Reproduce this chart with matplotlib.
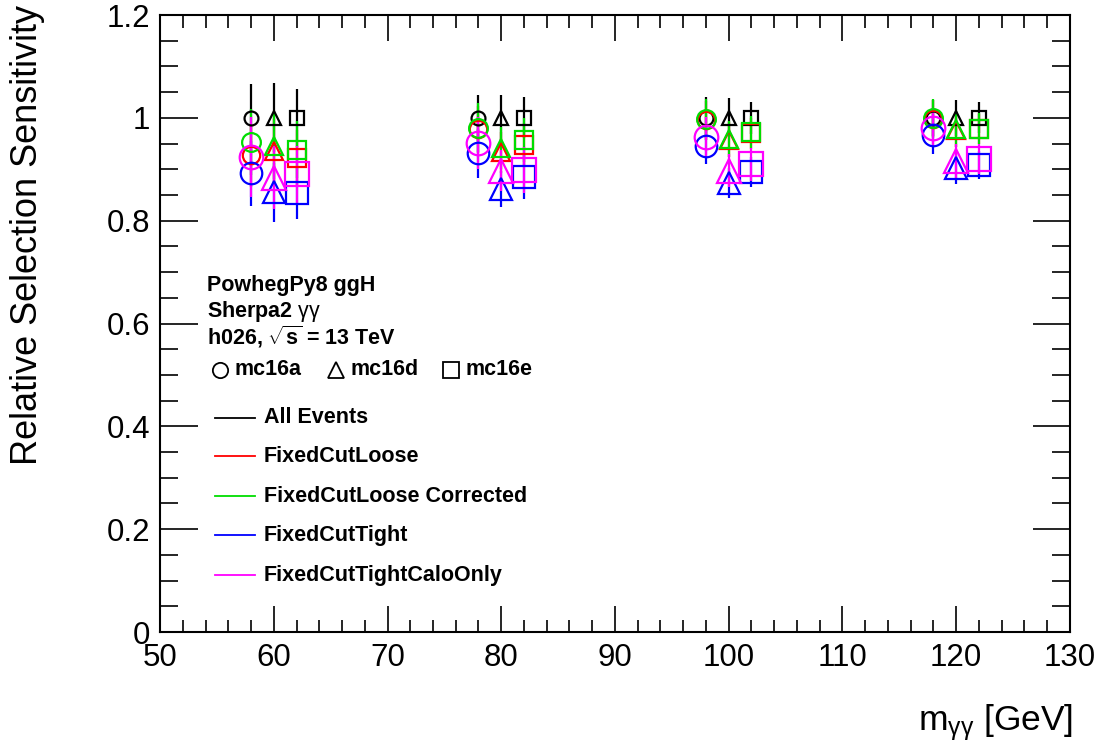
import numpy as np
import matplotlib
matplotlib.use('Agg')
import matplotlib.pyplot as plt
from matplotlib.ticker import MultipleLocator

plt.rcParams['font.family'] = ['Liberation Sans', 'DejaVu Sans']
plt.rcParams['mathtext.fontset'] = 'custom'
plt.rcParams['mathtext.rm'] = 'Liberation Sans'
plt.rcParams['mathtext.it'] = 'Liberation Sans:italic'
plt.rcParams['mathtext.bf'] = 'Liberation Sans:bold'

# Mass points and sample offsets (mc16a, mc16d, mc16e)
masses = [60, 80, 100, 120]
samples = ['mc16a', 'mc16d', 'mc16e']
sample_offsets = [-2, 0, 2]
sample_markers = ['o', '^', 's']

selections = ['All Events', 'FixedCutLoose', 'FixedCutLoose Corrected',
              'FixedCutTight', 'FixedCutTightCaloOnly']
colors = ['black', 'red', '#00dd00', 'blue', 'magenta']
msizes = [10, 12.5, 13.5, 15.5, 17]

# values[selection][sample] -> one value per mass point
values = {
    'All Events': [[1.0, 1.0, 1.0, 1.0], [1.0, 1.0, 1.0, 1.0], [1.0, 1.0, 1.0, 1.0]],
    'FixedCutLoose': [[0.927, 0.978, 0.995, 0.998], [0.936, 0.933, 0.957, 0.977], [0.922, 0.948, 0.970, 0.978]],
    'FixedCutLoose Corrected': [[0.953, 0.981, 0.997, 0.999], [0.946, 0.942, 0.958, 0.978], [0.938, 0.957, 0.972, 0.979]],
    'FixedCutTight': [[0.892, 0.931, 0.946, 0.966], [0.855, 0.861, 0.874, 0.903], [0.853, 0.885, 0.894, 0.908]],
    'FixedCutTightCaloOnly': [[0.924, 0.951, 0.962, 0.981], [0.884, 0.897, 0.897, 0.916], [0.890, 0.899, 0.910, 0.920]],
}
# uncertainties per sample, one per mass point
errors = {
    'All Events': [[0.065, 0.045, 0.040, 0.035], [0.067, 0.044, 0.038, 0.035], [0.056, 0.040, 0.031, 0.030]],
    'FixedCutLoose': [[0.062, 0.046, 0.038, 0.036], [0.062, 0.040, 0.034, 0.034], [0.054, 0.042, 0.030, 0.029]],
    'FixedCutLoose Corrected': [[0.064, 0.047, 0.040, 0.038], [0.064, 0.041, 0.035, 0.035], [0.055, 0.043, 0.031, 0.030]],
    'FixedCutTight': [[0.063, 0.047, 0.036, 0.037], [0.058, 0.035, 0.029, 0.032], [0.050, 0.043, 0.029, 0.027]],
    'FixedCutTightCaloOnly': [[0.078, 0.050, 0.040, 0.038], [0.062, 0.040, 0.032, 0.033], [0.055, 0.045, 0.032, 0.030]],
}

fig = plt.figure(figsize=(11.12, 7.44), dpi=100)
ax = fig.add_axes([0.1439, 0.1505, 0.8183, 0.8293])

for sel, col, ms in zip(selections, colors, msizes):
    for i, (off, mk) in enumerate(zip(sample_offsets, sample_markers)):
        x = np.array(masses) + off
        ax.errorbar(x, values[sel][i], yerr=errors[sel][i], fmt=mk, color=col,
                    mfc='none', mec=col, ms=ms, mew=1.6, elinewidth=1.6, capsize=0)

ax.set_xlim(50, 130)
ax.set_ylim(0, 1.2)
ax.xaxis.set_major_locator(MultipleLocator(10))
ax.xaxis.set_minor_locator(MultipleLocator(2))
ax.yaxis.set_major_locator(MultipleLocator(0.2))
ax.yaxis.set_minor_locator(MultipleLocator(0.05))
ax.set_yticks([0, 0.2, 0.4, 0.6, 0.8, 1.0, 1.2])
ax.set_yticklabels(['0', '0.2', '0.4', '0.6', '0.8', '1', '1.2'])
ax.tick_params(which='both', direction='in', top=True, right=True, labelsize=22.5, width=1.2)
ax.tick_params(axis='x', which='major', length=19, pad=8)
ax.tick_params(axis='x', which='minor', length=9)
ax.tick_params(axis='y', which='major', length=27, pad=7)
ax.tick_params(axis='y', which='minor', length=13)
for s in ax.spines.values():
    s.set_linewidth(1.5)

# Axis titles placed like ROOT (top / right aligned)
fig.text(0.0247, 0.9933, 'Relative Selection Sensitivity', fontsize=26,
         rotation=90, ha='center', va='top')
fig.text(0.965, 0.0188, r'm$_{\mathrm{\gamma\gamma}}$ [GeV]', fontsize=25.5,
         ha='right', va='baseline')

# Legend block
tkw = dict(transform=ax.transAxes, fontsize=15.5, fontweight='bold', va='center', ha='left')
ax.text(0.0516, 0.562, 'PowhegPy8 ggH', **tkw)
ax.text(0.0516, 0.520, r'Sherpa2 $\mathrm{\gamma\gamma}$', **tkw)
ax.text(0.0516, 0.478, r'h026, $\mathbf{\sqrt{s}}$ = 13 TeV', **tkw)

sym_x = [0.066, 0.193, 0.320]
for sx, mk, name in zip(sym_x, sample_markers, samples):
    ax.plot([sx], [0.425], marker=mk, mfc='none', mec='black', ms=11, mew=1.3,
            transform=ax.transAxes, clip_on=False)
    ax.text(sx + 0.016, 0.425, name, **tkw)

entry_y = [0.347, 0.285, 0.220, 0.157, 0.092]
for ey, sel, col in zip(entry_y, selections, colors):
    ax.plot([0.060, 0.104], [ey, ey], color=col, lw=1.3, transform=ax.transAxes)
    ax.text(0.114, ey, sel, **tkw)

fig.savefig('out.png', dpi=100)
